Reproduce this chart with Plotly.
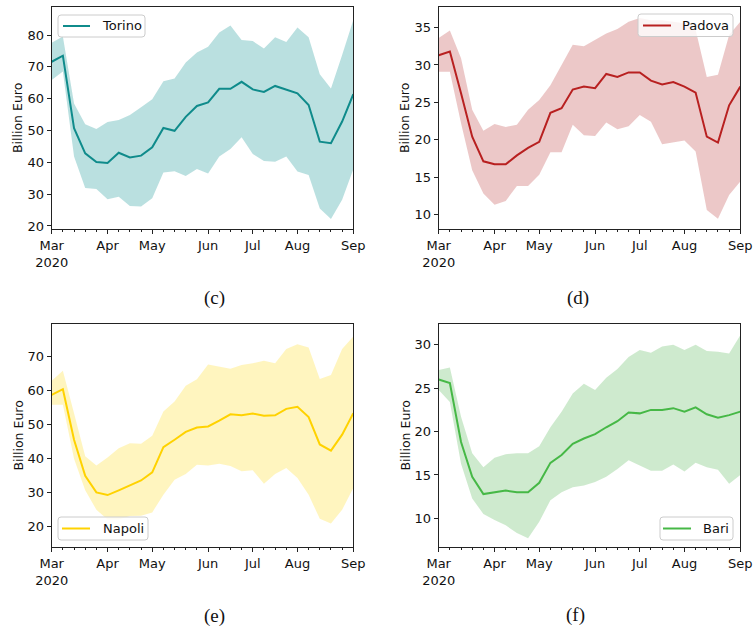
import pandas as pd
import plotly.graph_objects as go

# Weekly observations (Sundays), March to early September 2020
weeks = pd.date_range("2020-03-01", periods=28, freq="7D")

torino_mean = [71.6, 73.5, 50.7, 42.8, 40.1, 39.8, 43.0, 41.5, 42.1, 44.7, 50.8, 49.9, 54.3, 57.7,
               58.8, 63.1, 63.1, 65.3, 62.9, 62.1, 64.0, 62.9, 61.7, 58.0, 46.5, 46.0, 52.8, 61.4]
torino_upper = [77.6, 79.5, 58.5, 52.0, 50.5, 52.7, 53.3, 54.9, 57.3, 59.8, 65.5, 66.3, 71.4, 74.5,
                76.3, 80.8, 83.0, 78.4, 78.1, 75.8, 79.3, 77.8, 82.4, 79.3, 67.7, 63.2, 73.7, 84.7]
torino_lower = [65.9, 68.5, 41.8, 31.9, 31.6, 28.4, 29.2, 26.3, 26.1, 28.7, 36.8, 37.2, 35.7, 37.9,
                36.5, 41.8, 44.2, 47.9, 42.6, 40.4, 40.2, 41.8, 37.1, 36.0, 25.5, 22.2, 28.2, 37.8]

padova_mean = [31.3, 31.8, 26.2, 20.4, 17.1, 16.7, 16.7, 17.9, 18.9, 19.7, 23.6, 24.2, 26.7, 27.1,
               26.9, 28.8, 28.4, 29.0, 29.0, 27.9, 27.4, 27.7, 27.1, 26.3, 20.4, 19.6, 24.6, 27.1]
padova_upper = [33.6, 34.6, 30.9, 24.0, 21.2, 22.1, 21.7, 22.0, 24.0, 25.3, 27.3, 30.0, 32.7, 32.5,
                33.3, 34.2, 34.8, 35.8, 36.3, 36.0, 36.0, 35.8, 35.6, 34.7, 28.4, 28.7, 34.0, 35.8]
padova_lower = [29.1, 29.1, 22.2, 15.9, 12.8, 11.3, 11.8, 13.8, 13.8, 15.3, 18.3, 18.3, 22.0, 20.6,
                20.5, 22.3, 21.4, 21.8, 23.3, 22.4, 19.4, 19.7, 19.9, 18.4, 10.6, 9.4, 12.6, 14.4]

napoli_mean = [58.7, 60.4, 45.5, 34.9, 30.0, 29.2, 30.6, 32.1, 33.5, 35.9, 43.3, 45.5, 47.8, 49.1,
               49.4, 51.1, 53.0, 52.7, 53.2, 52.6, 52.7, 54.6, 55.2, 52.2, 44.1, 42.3, 47.0, 53.3]
napoli_upper = [62.9, 65.8, 53.3, 40.6, 37.9, 40.3, 43.0, 44.5, 44.3, 46.7, 53.8, 56.8, 61.4, 63.3,
                67.7, 67.1, 66.4, 67.5, 68.0, 68.8, 68.0, 72.2, 73.6, 72.7, 63.4, 64.6, 72.2, 75.9]
napoli_lower = [55.8, 55.8, 39.9, 30.6, 24.9, 22.0, 22.0, 23.0, 23.1, 24.1, 29.3, 33.7, 35.4, 38.1,
                37.9, 38.4, 37.8, 36.2, 36.5, 32.5, 35.4, 37.2, 34.2, 29.3, 22.2, 20.8, 24.9, 31.3]

bari_mean = [26.0, 25.6, 18.8, 14.8, 12.8, 13.0, 13.2, 13.0, 13.0, 14.1, 16.4, 17.3, 18.6, 19.2,
             19.7, 20.5, 21.2, 22.2, 22.1, 22.5, 22.5, 22.7, 22.3, 22.8, 22.0, 21.6, 21.9, 22.3]
bari_upper = [27.1, 27.4, 21.7, 17.5, 15.9, 17.0, 17.4, 17.5, 17.5, 18.3, 20.5, 22.3, 24.4, 25.5,
              24.8, 26.2, 27.2, 28.6, 29.4, 29.1, 29.8, 30.0, 29.4, 30.0, 29.3, 29.2, 29.0, 31.1]
bari_lower = [24.8, 23.4, 16.3, 12.3, 10.5, 9.8, 9.2, 8.3, 7.7, 9.6, 12.1, 13.0, 13.6, 13.8,
              14.2, 14.8, 15.7, 16.7, 16.1, 15.5, 15.5, 16.2, 15.4, 16.4, 15.9, 15.6, 14.0, 15.0]

month_ticks = ["2020-03-01", "2020-04-05", "2020-05-03", "2020-06-07",
               "2020-07-05", "2020-08-02", "2020-09-06"]
month_labels = ["Mar<br>2020", "Apr", "May", "Jun", "Jul", "Aug", "Sep"]

W, H = 756, 629
FONT = "DejaVu Sans"


def fx(px):
    return px / W


def fy(px):
    return 1 - px / H


def rounded_box(x0, y0, x1, y1, r=3):
    """SVG path (paper coords) of a rectangle with rounded corners, given in pixels."""
    rx, ry = r / W, r / H
    X0, X1 = fx(x0), fx(x1)
    Y0, Y1 = fy(y0), fy(y1)  # Y0 is top, Y1 is bottom
    return (f"M{X0 + rx},{Y0} L{X1 - rx},{Y0} Q{X1},{Y0} {X1},{Y0 - ry} "
            f"L{X1},{Y1 + ry} Q{X1},{Y1} {X1 - rx},{Y1} "
            f"L{X0 + rx},{Y1} Q{X0},{Y1} {X0},{Y1 + ry} "
            f"L{X0},{Y0 - ry} Q{X0},{Y0} {X0 + rx},{Y0} Z")


panels = [
    dict(name="Torino", mean=torino_mean, upper=torino_upper, lower=torino_lower,
         line="#0f8b8b", fill="rgba(0,139,139,0.27)", yr=[18.95, 88.9], dt=10,
         xd=[51.7, 353.3], yd=[6.7, 229.3],
         box=(58, 15, 145, 37), key=(63, 90), text_x=100, key_y=26,
         cap="(c)", cap_xy=(214, 298), ylab_x=18),
    dict(name="Padova", mean=padova_mean, upper=padova_upper, lower=padova_lower,
         line="#b82020", fill="rgba(178,34,34,0.25)", yr=[8.0, 37.8], dt=5,
         xd=[438.7, 740.3], yd=[6.7, 229.3],
         box=(638, 14, 733, 36.5), key=(643, 671), text_x=680, key_y=25.5,
         cap="(d)", cap_xy=(578, 298), ylab_x=405),
    dict(name="Napoli", mean=napoli_mean, upper=napoli_upper, lower=napoli_lower,
         line="#ffd200", fill="rgba(255,215,0,0.25)", yr=[13.9, 79.6], dt=10,
         xd=[51.7, 353.3], yd=[324, 547],
         box=(58, 517, 148, 540), key=(62, 90), text_x=101, key_y=528.5,
         cap="(e)", cap_xy=(214, 616), ylab_x=18),
    dict(name="Bari", mean=bari_mean, upper=bari_upper, lower=bari_lower,
         line="#46b846", fill="rgba(60,170,60,0.25)", yr=[6.7, 32.4], dt=5,
         xd=[438.7, 740.3], yd=[324, 547],
         box=(660, 517, 733, 540), key=(663, 691), text_x=701, key_y=528.5,
         cap="(f)", cap_xy=(575, 615), ylab_x=405),
]

fig = go.Figure()
annotations = []
shapes = []
layout_extra = {}

for i, p in enumerate(panels, start=1):
    sfx = "" if i == 1 else str(i)
    xref, yref = "x" + sfx, "y" + sfx

    # uncertainty band as a closed polygon
    band_x = list(weeks) + list(weeks[::-1])
    band_y = list(p["upper"]) + list(p["lower"][::-1])
    fig.add_trace(go.Scatter(
        x=band_x, y=band_y, fill="toself", fillcolor=p["fill"],
        line=dict(width=0), mode="lines", hoverinfo="skip",
        showlegend=False, xaxis=xref, yaxis=yref))

    fig.add_trace(go.Scatter(
        x=weeks, y=p["mean"], mode="lines", name=p["name"],
        line=dict(color=p["line"], width=2), showlegend=False,
        xaxis=xref, yaxis=yref))

    layout_extra["xaxis" + sfx] = dict(
        domain=[fx(p["xd"][0]), fx(p["xd"][1])],
        anchor=yref, type="date", automargin=False,
        range=["2020-03-01", "2020-09-06"],
        tickmode="array", tickvals=month_ticks, ticktext=month_labels,
        ticks="outside", ticklen=4, tickwidth=1, tickcolor="#222",
        minor=dict(ticks="outside", ticklen=2, tickwidth=1, tickcolor="#222",
                   dtick=7 * 24 * 3600 * 1000, tick0="2020-03-01", showgrid=False),
        showline=True, mirror=True, linecolor="#222", linewidth=1,
        showgrid=False, zeroline=False,
        tickfont=dict(family=FONT, size=13, color="#111"),
    )
    layout_extra["yaxis" + sfx] = dict(
        domain=[fy(p["yd"][1]), fy(p["yd"][0])],
        anchor=xref, range=p["yr"], tick0=0, dtick=p["dt"], automargin=False,
        ticks="outside", ticklen=4, tickwidth=1, tickcolor="#222",
        showline=True, mirror=True, linecolor="#222", linewidth=1,
        showgrid=False, zeroline=False,
        tickfont=dict(family=FONT, size=13, color="#111"),
    )

    # legend box: frame, line key and label
    bx0, by0, bx1, by1 = p["box"]
    shapes.append(dict(type="path", xref="paper", yref="paper",
                       path=rounded_box(bx0, by0, bx1, by1),
                       fillcolor="rgba(255,255,255,0.8)",
                       line=dict(color="#cccccc", width=1), layer="above"))
    shapes.append(dict(type="line", xref="paper", yref="paper",
                       x0=fx(p["key"][0]), x1=fx(p["key"][1]),
                       y0=fy(p["key_y"]), y1=fy(p["key_y"]),
                       line=dict(color=p["line"], width=2), layer="above"))
    annotations.append(dict(
        xref="paper", yref="paper", x=fx(p["text_x"]), y=fy(p["key_y"]),
        text=p["name"], showarrow=False, xanchor="left", yanchor="middle",
        font=dict(family=FONT, size=13, color="#111")))

    # y-axis title
    annotations.append(dict(
        xref="paper", yref="paper", x=fx(p["ylab_x"]),
        y=fy((p["yd"][0] + p["yd"][1]) / 2), text="Billion Euro",
        textangle=-90, showarrow=False, xanchor="center", yanchor="middle",
        font=dict(family=FONT, size=12.5, color="#111")))

    # panel caption
    annotations.append(dict(
        xref="paper", yref="paper", x=fx(p["cap_xy"][0]), y=fy(p["cap_xy"][1]),
        text=p["cap"], showarrow=False, xanchor="center", yanchor="middle",
        font=dict(family="Liberation Serif", size=19, color="#111")))

fig.update_layout(
    width=W, height=H, margin=dict(l=0, r=0, t=0, b=0, autoexpand=False),
    paper_bgcolor="white", plot_bgcolor="white", showlegend=False,
    annotations=annotations, shapes=shapes, **layout_extra,
)

fig.write_html("out.html")
